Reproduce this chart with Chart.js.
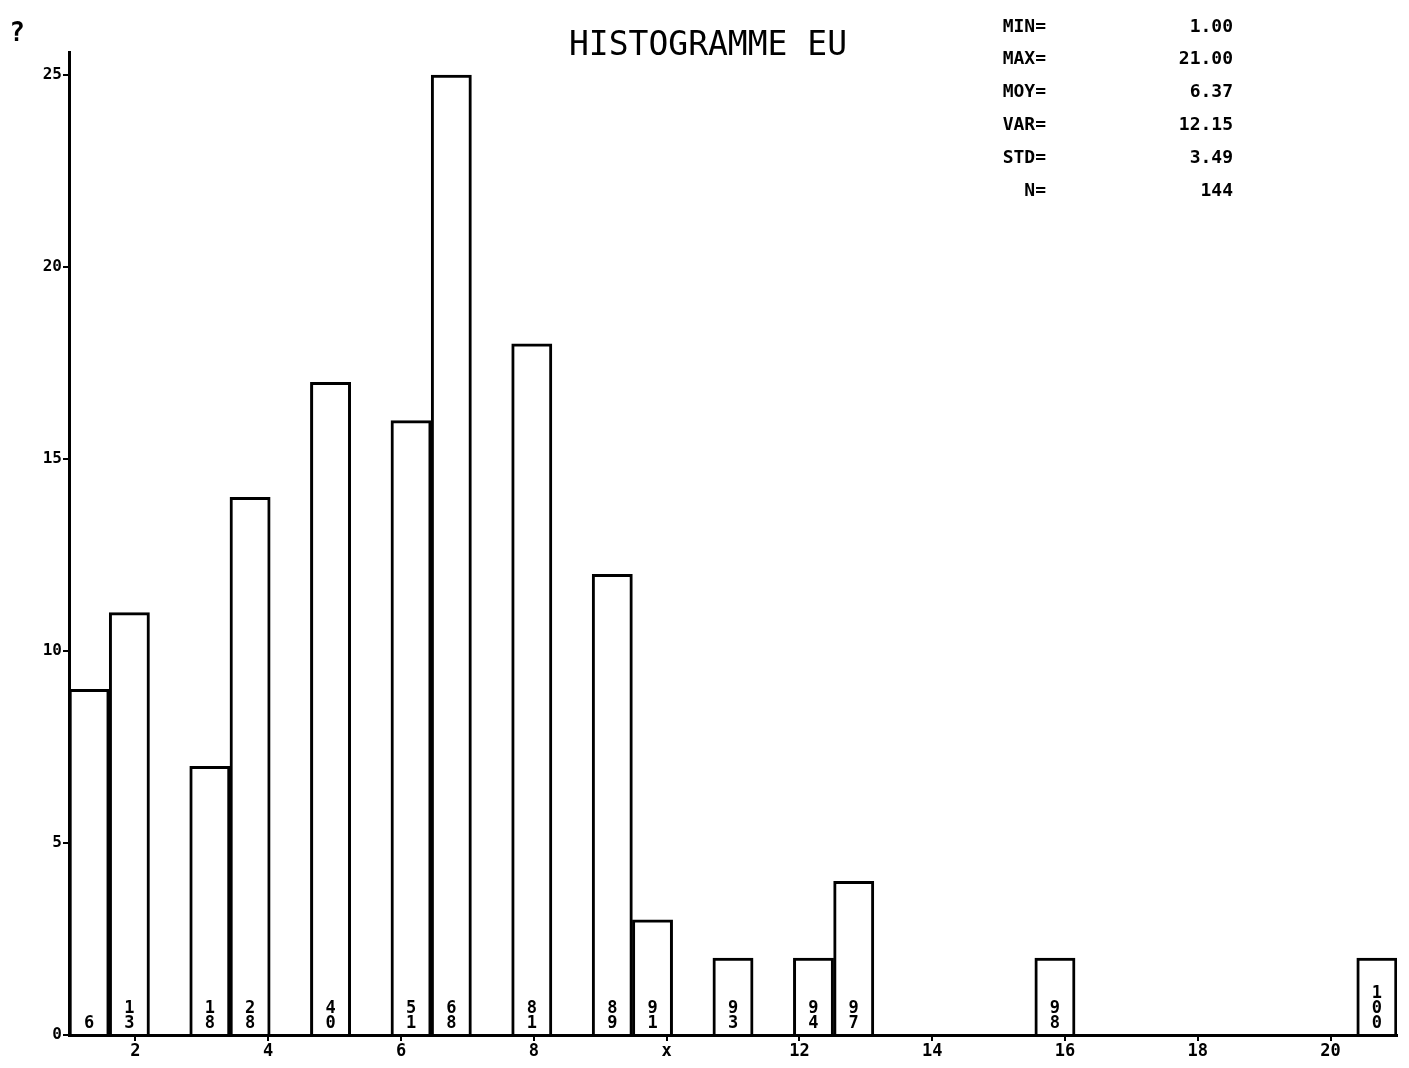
<!DOCTYPE html>
<html>
<head>
<meta charset="utf-8">
<script src="https://cdn.jsdelivr.net/npm/chart.js@4/dist/chart.umd.min.js"></script>
<style>
  body { margin: 0; background: #fff; }
  #wrap { width: 1409px; height: 1068px; }
</style>
</head>
<body>
<div id="wrap"><canvas id="histo" width="1409" height="1068"></canvas></div>
<script>
// classes of the histogram (33 bins between 1 and 21)
const binNames = ['1','2','3','4','5','6','7','8','9','10','11','12','13','14','15','16','17',
                  '18','19','20','21','22','23','24','25','26','27','28','29','30','31','32','33'];
// counts per bin
const counts = [9, 11, 0, 7, 14, 0, 17, 0, 16, 25, 0, 18, 0, 12, 3, 0, 2, 0, 2, 4,
                0, 0, 0, 0, 2, 0, 0, 0, 0, 0, 0, 0, 2];
// cumulated percentages written inside the bars
const cumLabels = ['6', '13', null, '18', '28', null, '40', null, '51', '68', null, '81', null, '89', '91', null,
                   '93', null, '94', '97', null, null, null, null, '98', null, null, null, null, null, null, null, '100'];
// axis ticks
const xTicks = [2, 4, 6, 8, 10, 12, 14, 16, 18, 20];
const xTickLabels = ['2', '4', '6', '8', 'x', '12', '14', '16', '18', '20'];
const yTicks = [0, 5, 10, 15, 20, 25];
// statistics block
const statNames = ['MIN=', 'MAX=', 'MOY=', 'VAR=', 'STD=', 'N='];
const statValues = ['1.00', '21.00', '6.37', '12.15', '3.49', '144'];
const titleText = 'HISTOGRAMME EU';

const MONO = '"DejaVu Sans Mono", "Liberation Mono", monospace';

// texts drawn outside the plot: title, stats, question mark, cumulated %
const textPlugin = {
    id: 'plotterText',
    afterDatasetsDraw(chart) {
        const ctx = chart.ctx;
        ctx.save();
        ctx.fillStyle = '#000';

        // cumulated percentages, one digit per line
        const meta = chart.getDatasetMeta(0);
        const base = chart.scales.y.getPixelForValue(0);
        ctx.font = 'bold 17px ' + MONO;
        ctx.textAlign = 'center';
        ctx.textBaseline = 'middle';
        meta.data.forEach((bar, i) => {
            const lbl = cumLabels[i];
            if (!lbl) return;
            const digits = lbl.split('');
            digits.forEach((d, k) => {
                const y = base - 11 - (digits.length - 1 - k) * 15;
                ctx.fillText(d, bar.x, y);
            });
        });

        // title
        ctx.font = '33px ' + MONO;
        ctx.textAlign = 'center';
        ctx.fillText(titleText, 708, 46);

        // statistics
        ctx.font = 'bold 18px ' + MONO;
        statNames.forEach((n, i) => {
            const y = 27 + i * 32.8;
            ctx.textAlign = 'right';
            ctx.fillText(n, 1046, y);
            ctx.fillText(statValues[i], 1233, y);
        });

        // question mark in the corner
        ctx.font = 'bold 26px ' + MONO;
        ctx.textAlign = 'center';
        ctx.fillText('?', 17, 34);
        ctx.restore();
    }
};

new Chart(document.getElementById('histo').getContext('2d'), {
    type: 'bar',
    data: {
        labels: binNames,
        datasets: [{
            data: counts,
            backgroundColor: '#fff',
            borderColor: '#000',
            borderWidth: 3,
            borderSkipped: 'start',
            barPercentage: 1,
            categoryPercentage: 1
        }]
    },
    options: {
        responsive: false,
        animation: false,
        layout: { padding: { top: 52, right: 12, left: 0, bottom: 0 } },
        plugins: { legend: { display: false }, tooltip: { enabled: false } },
        scales: {
            x: { display: false, offset: true },
            xv: {
                type: 'linear',
                position: 'bottom',
                min: 1,
                max: 21,
                offset: false,
                afterBuildTicks: s => { s.ticks = xTicks.map(v => ({ value: v })); },
                afterFit: s => { s.height = 33; },
                border: { display: true, color: '#000', width: 3 },
                grid: { offset: false, drawOnChartArea: false, color: '#000', lineWidth: 2, tickLength: 6 },
                ticks: {
                    color: '#000',
                    padding: 0,
                    maxRotation: 0,
                    autoSkip: false,
                    font: { family: MONO, size: 17, weight: 'bold' },
                    callback: (v) => xTickLabels[xTicks.indexOf(v)]
                }
            },
            y: {
                min: 0,
                max: 25.6,
                afterBuildTicks: s => { s.ticks = yTicks.map(v => ({ value: v })); },
                afterFit: s => { s.width = 69; },
                border: { display: true, color: '#000', width: 3 },
                grid: { drawOnChartArea: false, color: '#000', lineWidth: 2, tickLength: 6 },
                ticks: {
                    color: '#000',
                    padding: 1,
                    font: { family: MONO, size: 16, weight: 'bold' }
                }
            }
        }
    },
    plugins: [textPlugin]
});
</script>
</body>
</html>
